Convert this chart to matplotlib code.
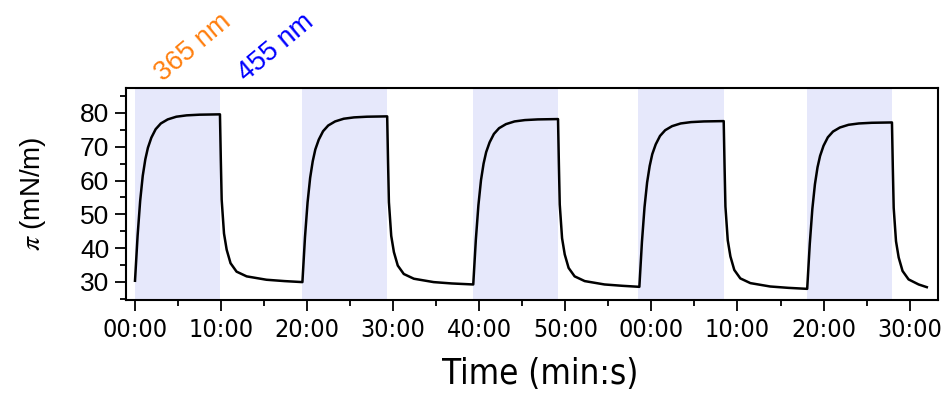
import matplotlib
matplotlib.use('Agg')
import matplotlib.pyplot as plt
from matplotlib import font_manager
from matplotlib.font_manager import FontProperties
from matplotlib.ticker import MultipleLocator, FuncFormatter

# surface pressure trace, time in minutes from start of recording
time_min = [
    0.0, 0.3, 0.6, 0.9, 1.2, 1.5, 1.9, 2.4, 3.0, 3.8, 4.8, 6.0, 7.5, 9.87,
    9.97, 10.07, 10.34, 10.65, 11.1, 11.8, 12.97, 15.27, 17.37,
    19.45, 19.75, 20.05, 20.35, 20.65, 20.95, 21.35, 21.85, 22.45, 23.25, 24.25, 25.45, 26.95, 29.3,
    29.4, 29.5, 29.77, 30.08, 30.53, 31.23, 32.4, 34.7, 36.8,
    39.3, 39.6, 39.9, 40.2, 40.5, 40.8, 41.2, 41.7, 42.3, 43.1, 44.1, 45.3, 46.8, 49.15,
    49.25, 49.35, 49.62, 49.93, 50.38, 51.08, 52.25, 54.55, 56.65,
    58.6, 58.9, 59.2, 59.5, 59.8, 60.1, 60.5, 61.0, 61.6, 62.4, 63.4, 64.6, 66.1, 68.4,
    68.5, 68.6, 68.87, 69.18, 69.63, 70.33, 71.5, 73.8, 75.9,
    78.1, 78.4, 78.7, 79.0, 79.3, 79.6, 80.0, 80.5, 81.1, 81.9, 82.9, 84.1, 85.6, 87.95,
    88.05, 88.15, 88.42, 88.73, 89.18, 89.88, 91.05, 92.0,
]
pressure = [
    30.3, 43.6, 54.0, 61.4, 66.3, 69.7, 72.7, 75.2, 76.9, 78.1, 78.9, 79.3, 79.5, 79.6,
    66.2, 54.3, 44.3, 39.5, 35.5, 33.0, 31.6, 30.6, 30.2,
    29.9, 43.2, 53.5, 60.8, 65.7, 69.2, 72.1, 74.6, 76.3, 77.5, 78.3, 78.7, 78.9, 79.0,
    65.6, 53.6, 43.6, 38.8, 34.8, 32.3, 30.9, 29.9, 29.5,
    29.2, 42.4, 52.7, 60.1, 65.0, 68.4, 71.3, 73.8, 75.5, 76.7, 77.5, 77.9, 78.1, 78.2,
    64.8, 52.9, 42.9, 38.1, 34.1, 31.6, 30.2, 29.2, 28.8,
    28.5, 41.8, 52.1, 59.4, 64.3, 67.8, 70.7, 73.2, 74.9, 76.1, 76.9, 77.3, 77.5, 77.6,
    64.2, 52.3, 42.3, 37.5, 33.5, 31.0, 29.6, 28.6, 28.2,
    27.9, 41.2, 51.6, 58.9, 63.9, 67.3, 70.3, 72.8, 74.5, 75.7, 76.5, 76.9, 77.1, 77.2,
    63.8, 51.9, 42.0, 37.2, 33.2, 30.7, 29.2, 28.4,
]

# 365 nm illumination windows (min)
uv_on = [0.0, 19.4, 39.3, 58.5, 78.1]
uv_off = [9.9, 29.3, 49.2, 68.4, 87.95]


def narrow_font(size):
    """Condensed upright sans for the time axis, whichever one is installed."""
    fonts = font_manager.fontManager.ttflist
    names = {f.name for f in fonts}
    for name in ('Liberation Sans Narrow', 'Arial Narrow'):
        if name in names:
            return FontProperties(family=name, size=size)
    for f in fonts:
        if (f.name == 'DejaVu Sans' and f.stretch == 'condensed'
                and f.style == 'normal' and f.weight in (400, 'normal')):
            return FontProperties(fname=f.fname, size=size)
    return FontProperties(family='Liberation Sans', size=size)


plt.rcParams['mathtext.fontset'] = 'stix'
sans = ['Liberation Sans', 'DejaVu Sans']

fig = plt.figure(figsize=(9.45, 4.03), dpi=100)
ax = fig.add_axes([0.1333, 0.2556, 0.8593, 0.526])

for t0, t1 in zip(uv_on, uv_off):
    ax.axvspan(t0, t1, color='#e6e8fb', lw=0, zorder=0)

ax.plot(time_min, pressure, color='black', lw=1.8, zorder=2)

ax.set_xlim(-1.05, 93.3)
ax.set_ylim(24.6, 87.4)

ax.xaxis.set_major_locator(MultipleLocator(10))
ax.xaxis.set_minor_locator(MultipleLocator(5))
ax.yaxis.set_major_locator(MultipleLocator(10))
ax.yaxis.set_minor_locator(MultipleLocator(5))
ax.xaxis.set_major_formatter(FuncFormatter(lambda v, pos: f"{int(round(v)) % 60:02d}:00"))

for side in ax.spines.values():
    side.set_linewidth(1.5)
ax.tick_params(which='major', direction='out', length=8, width=1.3)
ax.tick_params(which='minor', direction='out', length=4.5, width=1.3)
ax.tick_params(top=False, right=False, which='both')
ax.tick_params(axis='x', pad=5)
ax.tick_params(axis='y', pad=4, labelsize=19, labelfontfamily=sans)

tick_fp = narrow_font(18)
for lab in ax.get_xticklabels():
    lab.set_fontproperties(tick_fp)

ax.set_xlabel('Time (min:s)', fontproperties=narrow_font(25))
ax.xaxis.set_label_coords(0.51, -0.27)
ax.set_ylabel(r'$\pi$ (mN/m)', fontproperties=FontProperties(family=sans, size=20))
ax.yaxis.set_label_coords(-0.115, 0.5)
ax.yaxis.label.set_va('center')

ax.text(3.2, 1.03, '365 nm', transform=ax.get_xaxis_transform(), color='#ff7f0e',
        family=sans, fontsize=19.5, rotation=40, rotation_mode='anchor',
        ha='left', va='baseline')
ax.text(12.9, 1.03, '455 nm', transform=ax.get_xaxis_transform(), color='#0000ff',
        family=sans, fontsize=19.5, rotation=40, rotation_mode='anchor',
        ha='left', va='baseline')

fig.savefig('out.png', dpi=100)
